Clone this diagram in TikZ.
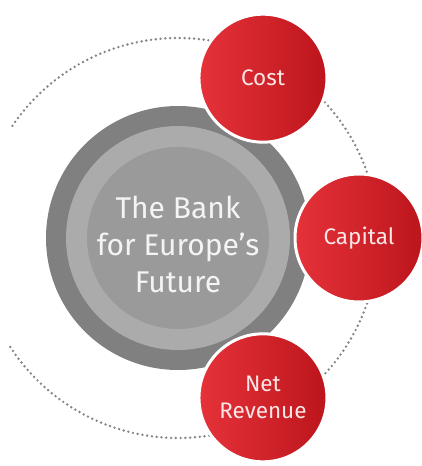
\documentclass[tikz,border=0pt]{standalone}
\usepackage{fontspec}
\usetikzlibrary{calc}
\setmainfont{Fira Sans}

\definecolor{ringdark}{HTML}{808080}
\definecolor{ringlight}{HTML}{ABABAB}
\definecolor{hubgray}{HTML}{9A9A9A}
\definecolor{dotgray}{HTML}{858585}
\definecolor{redlight}{HTML}{E6323A}
\definecolor{redmid}{HTML}{E2141D}
\definecolor{reddark}{HTML}{BC151C}
\definecolor{pinkwhite}{HTML}{FBE6E6}
\definecolor{hubwhite}{HTML}{F4F4F4}

\begin{document}
\begin{tikzpicture}[
  x=1pt,
  y=1pt,
  line cap=round,
  line join=round,
  hubtext/.style={
    text=hubwhite,
    align=center,
    font=\fontsize{30}{37}\selectfont
  },
  driver/.style={
    circle,
    minimum size=128pt,
    inner sep=0pt,
    left color=redlight,
    middle color=redmid,
    right color=reddark,
    draw=white,
    line width=3pt,
    text=pinkwhite,
    align=center,
    font=\fontsize{22.5}{27}\selectfont
  }
]
  % Размеры кругов
  \def\outerradius{132}
  \def\ringradius{112}
  \def\innerradius{91}
  \def\orbit{200}
  \def\spoke{181}

  \useasboundingbox (0,0) rectangle (422,466);
  \clip (0,0) rectangle (422,466);

  \coordinate (hub) at (178,228);

  % Пунктирная орбита
  \draw[
    dotgray,
    line width=2.7pt,
    dash pattern=on 0pt off 4.8pt
  ]
    (hub) ++(-147:\orbit)
    arc[
      start angle=-147,
      end angle=147,
      radius=\orbit
    ];

  % Центральный круг из трёх колец
  \fill[ringdark] (hub) circle (\outerradius);
  \fill[ringlight] (hub) circle (\ringradius);
  \fill[hubgray] (hub) circle (\innerradius);

  \node[hubtext] (title) at ([yshift=-6pt]hub)
    {The Bank\\for Europe’s\\Future};

  % Красные круги вокруг центра
  \node[driver] (cost) at ($(hub)+(62:\spoke)$) {Cost};
  \node[driver] (capital) at ($(hub)+(0:\spoke)$) {Capital};
  \node[driver] (revenue) at ($(hub)+(-62:\spoke)$) {Net\\Revenue};
\end{tikzpicture}
\end{document}
